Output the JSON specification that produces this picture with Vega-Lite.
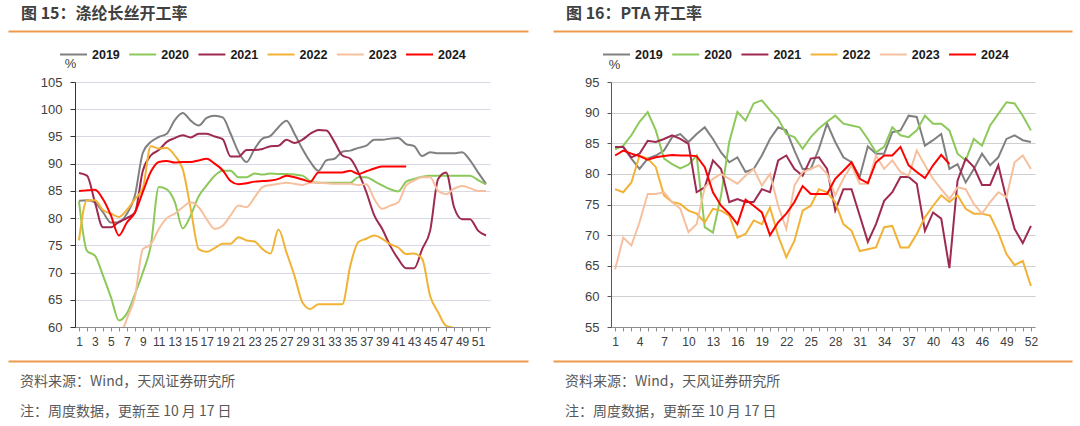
{
  "$schema": "https://vega.github.io/schema/vega-lite/v6.json",
  "background": "white",
  "padding": {"left": 8, "top": 0, "right": 0, "bottom": 0},
  "spacing": -42,
  "resolve": {"scale": {"color": "independent", "strokeWidth": "independent"}},
  "config": {
    "view": {"stroke": null},
    "axis": {"labelFont": "Liberation Sans", "labelColor": "#404040", "titleFont": "Liberation Sans", "titleColor": "#404040", "titleFontWeight": "normal"},
    "legend": {"direction": "horizontal", "title": null, "symbolType": "stroke", "symbolSize": 729, "labelFont": "Liberation Sans", "labelFontSize": 12.5, "labelFontWeight": "bold", "labelColor": "#1a1a1a", "labelOffset": 4, "columnPadding": 5.2}
  },
  "datasets": {
    "one": [{"k": 1}],
    "left": [
      {"week": 1, "2019": 83.2, "2020": 83.1, "2021": 88.3, "2022": 75.9, "2023": null, "2024": 85.0},
      {"week": 2, "2019": 83.3, "2020": 74.0, "2021": 87.8, "2022": 83.3, "2023": null, "2024": 85.1},
      {"week": 3, "2019": 82.9, "2020": 73.1, "2021": 82.9, "2022": 83.3, "2023": null, "2024": 85.2},
      {"week": 4, "2019": 81.1, "2020": 69.5, "2021": 78.3, "2022": 81.5, "2023": null, "2024": 83.5},
      {"week": 5, "2019": 79.2, "2020": 65.5, "2021": 78.3, "2022": 80.8, "2023": null, "2024": 80.5},
      {"week": 6, "2019": 79.2, "2020": 61.2, "2021": 79.3, "2022": 80.2, "2023": 57.5, "2024": 76.8},
      {"week": 7, "2019": 80.8, "2020": 62.5, "2021": 80.0, "2022": 81.5, "2023": 61.5, "2024": 79.2},
      {"week": 8, "2019": 84.1, "2020": 66.0, "2021": 81.0, "2022": 83.5, "2023": 65.5, "2024": 81.0},
      {"week": 9, "2019": 92.0, "2020": 70.0, "2021": 88.7, "2022": 85.5, "2023": 74.3, "2024": 84.8},
      {"week": 10, "2019": 94.0, "2020": 75.0, "2021": 91.5, "2022": 93.2, "2023": 75.2, "2024": 88.5},
      {"week": 11, "2019": 94.9, "2020": 85.7, "2021": 92.5, "2022": 92.8, "2023": 78.0, "2024": 90.3},
      {"week": 12, "2019": 95.5, "2020": 85.3, "2021": 94.0, "2022": 92.9, "2023": 80.0, "2024": 90.5},
      {"week": 13, "2019": 98.0, "2020": 83.0, "2021": 94.7, "2022": 91.5, "2023": 80.8, "2024": 90.2},
      {"week": 14, "2019": 99.3, "2020": 78.1, "2021": 95.2, "2022": 89.0, "2023": 82.0, "2024": 90.3},
      {"week": 15, "2019": 97.9, "2020": 80.5, "2021": 94.8, "2022": 81.7, "2023": 82.9, "2024": 90.3},
      {"week": 16, "2019": 97.0, "2020": 84.0, "2021": 95.5, "2022": 74.3, "2023": 82.0, "2024": 90.6},
      {"week": 17, "2019": 98.4, "2020": 86.0, "2021": 95.5, "2022": 73.8, "2023": 79.8, "2024": 90.9},
      {"week": 18, "2019": 98.8, "2020": 87.8, "2021": 95.0, "2022": 74.5, "2023": 78.0, "2024": 90.0},
      {"week": 19, "2019": 98.5, "2020": 88.7, "2021": 94.5, "2022": 75.3, "2023": 78.6, "2024": 88.8},
      {"week": 20, "2019": 95.5, "2020": 88.7, "2021": 91.3, "2022": 75.3, "2023": 80.5, "2024": 86.8},
      {"week": 21, "2019": 92.1, "2020": 87.5, "2021": 91.3, "2022": 76.5, "2023": 82.3, "2024": 86.2},
      {"week": 22, "2019": 90.3, "2020": 87.5, "2021": 92.5, "2022": 75.9, "2023": 82.0, "2024": 86.4},
      {"week": 23, "2019": 92.7, "2020": 88.2, "2021": 92.5, "2022": 75.7, "2023": 83.8, "2024": 86.7},
      {"week": 24, "2019": 94.6, "2020": 88.0, "2021": 92.7, "2022": 74.3, "2023": 85.7, "2024": 86.8},
      {"week": 25, "2019": 95.1, "2020": 88.2, "2021": 93.2, "2022": 73.5, "2023": 86.1, "2024": 86.9},
      {"week": 26, "2019": 96.7, "2020": 88.1, "2021": 93.3, "2022": 77.9, "2023": 86.3, "2024": 87.2},
      {"week": 27, "2019": 97.9, "2020": 88.1, "2021": 94.4, "2022": 73.7, "2023": 86.5, "2024": 87.8},
      {"week": 28, "2019": 95.5, "2020": 88.0, "2021": 93.8, "2022": 69.4, "2023": 86.3, "2024": 87.5},
      {"week": 29, "2019": 92.7, "2020": 87.8, "2021": 94.4, "2022": 64.5, "2023": 86.1, "2024": 87.1},
      {"week": 30, "2019": 90.3, "2020": 86.8, "2021": 95.5, "2022": 63.3, "2023": 86.5, "2024": 86.7},
      {"week": 31, "2019": 88.7, "2020": 86.5, "2021": 96.2, "2022": 64.2, "2023": 86.5, "2024": 88.4},
      {"week": 32, "2019": 90.6, "2020": 86.5, "2021": 96.1, "2022": 64.2, "2023": 86.4, "2024": 88.4},
      {"week": 33, "2019": 90.9, "2020": 86.5, "2021": 94.0, "2022": 64.2, "2023": 86.3, "2024": 88.4},
      {"week": 34, "2019": 92.2, "2020": 86.5, "2021": 91.5, "2022": 64.2, "2023": 86.3, "2024": 88.4},
      {"week": 35, "2019": 92.4, "2020": 86.5, "2021": 90.9, "2022": 71.3, "2023": 86.3, "2024": 88.7},
      {"week": 36, "2019": 92.9, "2020": 87.5, "2021": 88.4, "2022": 75.6, "2023": 86.1, "2024": 88.1},
      {"week": 37, "2019": 93.3, "2020": 87.5, "2021": 84.8, "2022": 76.2, "2023": 86.2, "2024": 88.6},
      {"week": 38, "2019": 94.4, "2020": 86.8, "2021": 80.5, "2022": 76.8, "2023": 83.5, "2024": 89.1},
      {"week": 39, "2019": 94.4, "2020": 86.0, "2021": 78.0, "2022": 76.2, "2023": 81.7, "2024": 89.5},
      {"week": 40, "2019": 94.6, "2020": 85.3, "2021": 74.9, "2022": 75.2, "2023": 82.3, "2024": 89.5},
      {"week": 41, "2019": 94.7, "2020": 84.9, "2021": 72.5, "2022": 74.6, "2023": 82.9, "2024": 89.5},
      {"week": 42, "2019": 93.6, "2020": 86.7, "2021": 70.8, "2022": 73.4, "2023": 86.0, "2024": 89.5},
      {"week": 43, "2019": 93.2, "2020": 87.2, "2021": 70.8, "2022": 73.5, "2023": 86.9, "2024": null},
      {"week": 44, "2019": 91.4, "2020": 87.6, "2021": 74.3, "2022": 72.5, "2023": 87.5, "2024": null},
      {"week": 45, "2019": 92.1, "2020": 87.8, "2021": 77.7, "2022": 65.7, "2023": 87.5, "2024": null},
      {"week": 46, "2019": 91.9, "2020": 87.8, "2021": 87.2, "2022": 62.7, "2023": 85.0, "2024": null},
      {"week": 47, "2019": 91.9, "2020": 87.8, "2021": 88.4, "2022": 60.2, "2023": 84.4, "2024": null},
      {"week": 48, "2019": 91.9, "2020": 87.8, "2021": 82.0, "2022": 59.8, "2023": 85.4, "2024": null},
      {"week": 49, "2019": 92.1, "2020": 87.8, "2021": 79.8, "2022": 57.0, "2023": 85.9, "2024": null},
      {"week": 50, "2019": 90.6, "2020": 87.8, "2021": 79.8, "2022": 56.0, "2023": 85.5, "2024": null},
      {"week": 51, "2019": 88.4, "2020": 87.0, "2021": 77.7, "2022": 56.0, "2023": 85.0, "2024": null},
      {"week": 52, "2019": 86.3, "2020": 86.2, "2021": 76.8, "2022": 56.0, "2023": 85.0, "2024": null}
    ],
    "right": [
      {"week": 1, "2019": 84.4, "2020": 84.0, "2021": 84.4, "2022": 77.5, "2023": 64.4, "2024": 83.0},
      {"week": 2, "2019": 84.4, "2020": 84.6, "2021": 84.4, "2022": 77.0, "2023": 69.6, "2024": 83.8},
      {"week": 3, "2019": 82.5, "2020": 86.3, "2021": 82.7, "2022": 78.6, "2023": 68.3, "2024": 83.3},
      {"week": 4, "2019": 80.8, "2020": 88.5, "2021": 83.3, "2022": 83.0, "2023": 72.1, "2024": 82.9},
      {"week": 5, "2019": 82.5, "2020": 90.1, "2021": 85.4, "2022": 82.5, "2023": 76.7, "2024": 82.3},
      {"week": 6, "2019": 83.0, "2020": 87.1, "2021": 85.2, "2022": 81.1, "2023": 76.7, "2024": 82.7},
      {"week": 7, "2019": 83.8, "2020": 82.5, "2021": 85.7, "2022": 76.5, "2023": 77.0, "2024": 82.9},
      {"week": 8, "2019": 86.0, "2020": 81.6, "2021": 86.3, "2022": 75.4, "2023": 75.4, "2024": 83.1},
      {"week": 9, "2019": 86.5, "2020": 80.9, "2021": 85.7, "2022": 75.1, "2023": 74.3, "2024": 83.0},
      {"week": 10, "2019": 85.2, "2020": 81.5, "2021": 84.9, "2022": 74.0, "2023": 70.5, "2024": 83.0},
      {"week": 11, "2019": 86.5, "2020": 83.0, "2021": 77.0, "2022": 73.5, "2023": 71.8, "2024": 82.9},
      {"week": 12, "2019": 87.6, "2020": 71.3, "2021": 77.8, "2022": 72.1, "2023": 77.8, "2024": 81.1},
      {"week": 13, "2019": 85.7, "2020": 70.4, "2021": 82.2, "2022": 74.3, "2023": 79.2, "2024": 77.0},
      {"week": 14, "2019": 83.5, "2020": 76.5, "2021": 80.8, "2022": 74.0, "2023": 80.0, "2024": 74.8},
      {"week": 15, "2019": 81.9, "2020": 85.2, "2021": 75.4, "2022": 73.2, "2023": 79.2, "2024": 73.5},
      {"week": 16, "2019": 82.7, "2020": 90.1, "2021": 75.9, "2022": 69.6, "2023": 78.4, "2024": 71.8},
      {"week": 17, "2019": 80.3, "2020": 88.7, "2021": 75.4, "2022": 70.2, "2023": 79.7, "2024": 75.8},
      {"week": 18, "2019": 80.8, "2020": 91.5, "2021": 75.4, "2022": 72.4, "2023": 80.8, "2024": 74.8},
      {"week": 19, "2019": 83.0, "2020": 92.0, "2021": 77.5, "2022": 71.8, "2023": 78.1, "2024": 73.7},
      {"week": 20, "2019": 85.7, "2020": 90.4, "2021": 77.0, "2022": 74.5, "2023": 80.0, "2024": 70.0},
      {"week": 21, "2019": 87.6, "2020": 89.0, "2021": 82.2, "2022": 69.9, "2023": 74.8, "2024": 72.1},
      {"week": 22, "2019": 87.1, "2020": 86.5, "2021": 83.0, "2022": 66.4, "2023": 71.0, "2024": 73.5},
      {"week": 23, "2019": 83.8, "2020": 86.0, "2021": 80.8, "2022": 69.1, "2023": 78.1, "2024": 75.4},
      {"week": 24, "2019": 80.8, "2020": 84.1, "2021": 79.7, "2022": 74.0, "2023": 80.3, "2024": 78.0},
      {"week": 25, "2019": 80.8, "2020": 86.0, "2021": 82.5, "2022": 74.8, "2023": 80.8, "2024": 76.7},
      {"week": 26, "2019": 84.1, "2020": 87.4, "2021": 82.7, "2022": 77.5, "2023": 81.4, "2024": 76.7},
      {"week": 27, "2019": 88.2, "2020": 88.5, "2021": 80.8, "2022": 77.0, "2023": 80.0, "2024": 76.7},
      {"week": 28, "2019": 85.2, "2020": 89.5, "2021": 74.0, "2022": 75.4, "2023": 76.5, "2024": 79.2},
      {"week": 29, "2019": 82.7, "2020": 88.2, "2021": 77.5, "2022": 71.8, "2023": 79.2, "2024": 80.5},
      {"week": 30, "2019": 81.9, "2020": 87.9, "2021": 77.5, "2022": 70.7, "2023": 81.4, "2024": 81.9},
      {"week": 31, "2019": 79.5, "2020": 87.6, "2021": 73.2, "2022": 67.4, "2023": 78.4, "2024": 79.2},
      {"week": 32, "2019": 84.5, "2020": 85.7, "2021": 68.9, "2022": 67.7, "2023": 78.4, "2024": 78.5},
      {"week": 33, "2019": 83.3, "2020": 83.5, "2021": 71.8, "2022": 68.0, "2023": 83.0, "2024": 81.9},
      {"week": 34, "2019": 83.3, "2020": 84.4, "2021": 75.6, "2022": 71.3, "2023": 80.8, "2024": 83.0},
      {"week": 35, "2019": 86.8, "2020": 87.6, "2021": 77.0, "2022": 71.5, "2023": 82.2, "2024": 83.0},
      {"week": 36, "2019": 87.1, "2020": 86.3, "2021": 79.5, "2022": 68.0, "2023": 80.3, "2024": 84.4},
      {"week": 37, "2019": 89.5, "2020": 86.0, "2021": 79.5, "2022": 68.0, "2023": 79.7, "2024": 81.4},
      {"week": 38, "2019": 89.3, "2020": 87.1, "2021": 78.4, "2022": 70.2, "2023": 83.8, "2024": 80.3},
      {"week": 39, "2019": 84.6, "2020": 89.5, "2021": 70.7, "2022": 72.9, "2023": 81.4, "2024": 79.3},
      {"week": 40, "2019": 85.5, "2020": 88.2, "2021": 73.7, "2022": 74.8, "2023": 79.2, "2024": 81.4},
      {"week": 41, "2019": 86.5, "2020": 88.2, "2021": 72.7, "2022": 76.5, "2023": 77.5, "2024": 83.1},
      {"week": 42, "2019": 80.8, "2020": 87.1, "2021": 64.6, "2022": 75.4, "2023": 75.9, "2024": 81.6},
      {"week": 43, "2019": 81.6, "2020": 83.3, "2021": 78.9, "2022": 76.5, "2023": 77.8, "2024": null},
      {"week": 44, "2019": 78.6, "2020": 82.2, "2021": 82.5, "2022": 74.3, "2023": 77.5, "2024": null},
      {"week": 45, "2019": 80.8, "2020": 85.7, "2021": 81.1, "2022": 73.5, "2023": 75.1, "2024": null},
      {"week": 46, "2019": 83.3, "2020": 84.6, "2021": 78.2, "2022": 73.5, "2023": 73.5, "2024": null},
      {"week": 47, "2019": 81.4, "2020": 87.9, "2021": 78.2, "2022": 73.2, "2023": 75.4, "2024": null},
      {"week": 48, "2019": 82.7, "2020": 89.8, "2021": 81.4, "2022": 70.4, "2023": 77.0, "2024": null},
      {"week": 49, "2019": 85.7, "2020": 91.7, "2021": 75.9, "2022": 66.9, "2023": 76.2, "2024": null},
      {"week": 50, "2019": 86.3, "2020": 91.5, "2021": 71.0, "2022": 65.1, "2023": 81.9, "2024": null},
      {"week": 51, "2019": 85.5, "2020": 89.5, "2021": 68.7, "2022": 65.8, "2023": 83.0, "2024": null},
      {"week": 52, "2019": 85.2, "2020": 87.1, "2021": 71.5, "2022": 61.7, "2023": 80.8, "2024": null}
    ]
  },
  "hconcat": [
    {
      "spacing": 14,
      "align": "none",
      "resolve": {"scale": {"color": "independent", "strokeWidth": "independent"}},
      "vconcat": [
        {
          "spacing": 9,
          "align": "none",
          "resolve": {"scale": {"color": "independent", "strokeWidth": "independent"}},
          "vconcat": [
            {
              "width": 453, "height": 31,
              "data": {"name": "one"},
              "mark": {"type": "text", "text": "图 15：涤纶长丝开工率", "align": "left", "baseline": "middle", "dx": 13, "dy": -1.5, "font": "Noto Sans CJK SC", "fontSize": 16, "fontWeight": "bold", "fill": "#404040"},
              "encoding": {
                "x": {"datum": 0, "type": "quantitative", "scale": {"domain": [0, 1], "range": [-67, 453]}, "axis": {"orient": "bottom", "labels": false, "ticks": false, "grid": false, "title": null, "domainColor": "#EE9A4D", "domainWidth": 2}}
              }
            },
            {
              "width": 415, "height": 245,
              "data": {"name": "left"},
              "transform": [{"fold": ["2019", "2020", "2021", "2022", "2023", "2024"], "as": ["year", "value"]}],
              "mark": {"type": "line", "interpolate": "monotone", "clip": true},
              "encoding": {
                "x": {"field": "week", "type": "ordinal", "scale": {"padding": 0.5},
                  "axis": {"title": null, "labelExpr": "datum.value % 2 == 1 ? datum.label : ''", "labelOverlap": false, "labelAngle": 0, "labelFontSize": 12, "labelPadding": 5, "tickSize": 4, "tickColor": "#8c8c8c", "domainColor": "#8c8c8c", "grid": false}},
                "y": {"field": "value", "type": "quantitative", "scale": {"domain": [60, 105], "zero": false, "nice": false},
                  "axis": {"title": "%", "titleAngle": 0, "titleX": -5, "titleY": -19, "titleAlign": "center", "titleBaseline": "middle", "titleFontSize": 13, "values": [60, 65, 70, 75, 80, 85, 90, 95, 100, 105], "labelFontSize": 13, "labelPadding": 8, "tickSize": 5, "tickColor": "#333333", "domainColor": "#333333", "gridColor": "#D9D9E6", "minExtent": 67}},
                "color": {"field": "year", "type": "ordinal", "scale": {"domain": ["2019", "2020", "2021", "2022", "2023", "2024"], "range": ["#808080", "#8CC85A", "#9E2A4F", "#F2B236", "#F6C09F", "#FF0000"]},
                  "legend": {"orient": "none", "legendX": -16, "legendY": -42}},
                "strokeWidth": {"field": "year", "type": "ordinal", "scale": {"domain": ["2019", "2020", "2021", "2022", "2023", "2024"], "range": [2, 2, 2, 2, 2, 3.5]},
                  "legend": {"orient": "none", "legendX": -16, "legendY": -42}}
              }
            }
          ]
        },
        {
          "width": 453, "height": 60,
          "data": {"name": "one"},
          "mark": {"type": "text", "text": ["资料来源：Wind，天风证券研究所", "注：周度数据，更新至 10 月 17 日"], "lineHeight": 30, "align": "left", "baseline": "middle", "dx": 12, "dy": -9, "font": "Noto Sans CJK SC", "fontSize": 14, "fill": "#595959"},
          "encoding": {
            "x": {"datum": 0, "type": "quantitative", "scale": {"domain": [0, 1], "range": [-67, 453]}, "axis": {"orient": "top", "labels": false, "ticks": false, "grid": false, "title": null, "domainColor": "#EE9A4D", "domainWidth": 2}}
          }
        }
      ]
    },
    {
      "spacing": 14,
      "align": "none",
      "resolve": {"scale": {"color": "independent", "strokeWidth": "independent"}},
      "vconcat": [
        {
          "spacing": 9,
          "align": "none",
          "resolve": {"scale": {"color": "independent", "strokeWidth": "independent"}},
          "vconcat": [
            {
              "width": 461, "height": 31,
              "data": {"name": "one"},
              "mark": {"type": "text", "text": "图 16：PTA 开工率", "align": "left", "baseline": "middle", "dx": 13, "dy": -1.5, "font": "Noto Sans CJK SC", "fontSize": 16, "fontWeight": "bold", "fill": "#404040"},
              "encoding": {
                "x": {"datum": 0, "type": "quantitative", "scale": {"domain": [0, 1], "range": [-58, 461]}, "axis": {"orient": "bottom", "labels": false, "ticks": false, "grid": false, "title": null, "domainColor": "#EE9A4D", "domainWidth": 2}}
              }
            },
            {
              "width": 424, "height": 245,
              "data": {"name": "right"},
              "transform": [{"fold": ["2019", "2020", "2021", "2022", "2023", "2024"], "as": ["year", "value"]}],
              "mark": {"type": "line", "interpolate": "linear", "clip": true},
              "encoding": {
                "x": {"field": "week", "type": "ordinal", "scale": {"padding": 0.5},
                  "axis": {"title": null, "labelExpr": "(datum.value - 1) % 3 == 0 ? datum.label : ''", "labelOverlap": false, "labelAngle": 0, "labelFontSize": 12, "labelPadding": 5, "tickSize": 4, "tickColor": "#8c8c8c", "domainColor": "#8c8c8c", "grid": false}},
                "y": {"field": "value", "type": "quantitative", "scale": {"domain": [55, 95], "zero": false, "nice": false},
                  "axis": {"title": "%", "titleAngle": 0, "titleX": 3, "titleY": -18, "titleAlign": "center", "titleBaseline": "middle", "titleFontSize": 13, "values": [55, 60, 65, 70, 75, 80, 85, 90, 95], "labelFontSize": 13, "labelPadding": 8, "tickSize": 4, "tickColor": "#555555", "domainColor": "#555555", "gridColor": "#CFCFCF", "minExtent": 58}},
                "color": {"field": "year", "type": "ordinal", "scale": {"domain": ["2019", "2020", "2021", "2022", "2023", "2024"], "range": ["#808080", "#8CC85A", "#9E2A4F", "#F2B236", "#F6C09F", "#FF0000"]},
                  "legend": {"orient": "none", "legendX": -9, "legendY": -42}},
                "strokeWidth": {"field": "year", "type": "ordinal", "scale": {"domain": ["2019", "2020", "2021", "2022", "2023", "2024"], "range": [2, 2, 2, 2, 2, 3.5]},
                  "legend": {"orient": "none", "legendX": -9, "legendY": -42}}
              }
            }
          ]
        },
        {
          "width": 461, "height": 60,
          "data": {"name": "one"},
          "mark": {"type": "text", "text": ["资料来源：Wind，天风证券研究所", "注：周度数据，更新至 10 月 17 日"], "lineHeight": 30, "align": "left", "baseline": "middle", "dx": 12, "dy": -9, "font": "Noto Sans CJK SC", "fontSize": 14, "fill": "#595959"},
          "encoding": {
            "x": {"datum": 0, "type": "quantitative", "scale": {"domain": [0, 1], "range": [-58, 461]}, "axis": {"orient": "top", "labels": false, "ticks": false, "grid": false, "title": null, "domainColor": "#EE9A4D", "domainWidth": 2}}
          }
        }
      ]
    }
  ]
}
